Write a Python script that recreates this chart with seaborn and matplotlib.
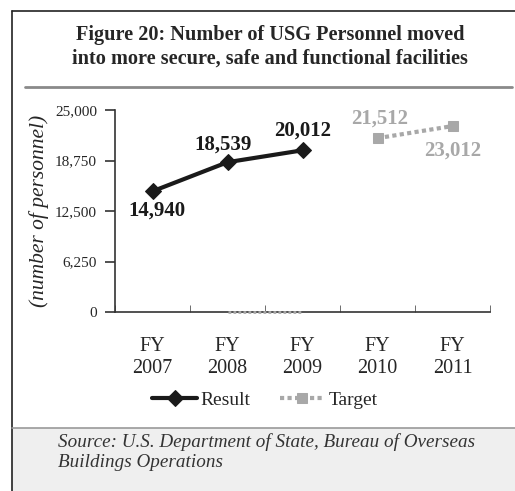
import numpy as np
import matplotlib.pyplot as plt
import seaborn as sns
from matplotlib.lines import Line2D
from matplotlib.patches import Rectangle

years = ["FY\n2007", "FY\n2008", "FY\n2009", "FY\n2010", "FY\n2011"]
result = [14940, 18539, 20012, np.nan, np.nan]
target = [np.nan, np.nan, np.nan, 21512, 23012]
target_zero = [np.nan, 0, 0, np.nan, np.nan]
yticks = [0, 6250, 12500, 18750, 25000]

sns.set_style("ticks")
plt.rcParams["font.family"] = ["Liberation Serif", "DejaVu Serif"]

W, H = 515, 491
fig = plt.figure(figsize=(W / 100, H / 100), dpi=100)
ax = fig.add_axes([115 / W, 1 - 312 / H, 375 / W, 202 / H])

pos = np.arange(len(years))
black = "#1a1a1a"
grey = "#a8a8a8"

sns.lineplot(x=pos, y=result, ax=ax, color=black, lw=3, marker="D", ms=8,
             mec=black, label="Result")
sns.lineplot(x=pos, y=target, ax=ax, color=grey, lw=3, ls=(0, (1, 0.8)),
             marker="s", ms=7, mec=grey, label="Target")
ax.plot(pos, target_zero, color=grey, lw=2, ls=(0, (1, 0.8)), zorder=4,
        clip_on=False)

# data labels: (value, x, colour, offset in points)
bold = dict(fontsize=15, fontweight="bold", ha="center", va="center",
            textcoords="offset points")
labels = [
    (result[0], 0, black, (3.5, -14)),
    (result[1], 1, black, (-3, 12.5)),
    (result[2], 2, black, (0, 14)),
    (target[3], 3, grey, (1.5, 14)),
    (target[4], 4, grey, (0, -17.5)),
]
for v, i, c, off in labels:
    ax.annotate(f"{v:,.0f}", (pos[i], v), xytext=off, color=c, **bold)

ax.set_xlim(-0.5, len(years) - 0.5)
ax.set_ylim(0, 25000)
ax.set_yticks(yticks)
ax.set_yticklabels([f"{v:,}" for v in yticks], fontsize=11)
ax.set_xticks(pos)
ax.set_xticklabels(years, fontsize=14.5, linespacing=1.2)
ax.set_xticks(np.arange(-0.5, len(years)), minor=True)
ax.tick_params(axis="x", which="major", length=0, pad=18)
ax.tick_params(axis="x", which="minor", length=5, direction="in", color="#555")
ax.tick_params(axis="y", length=7, width=1.2, color="#333", pad=6)
ax.set_ylabel("(number of personnel)", fontsize=15.5, style="italic", labelpad=4)
sns.despine(ax=ax)
for s in ("left", "bottom"):
    ax.spines[s].set_color("#333")
    ax.spines[s].set_linewidth(1.2)

leg = ax.legend(loc="upper center", bbox_to_anchor=(0.40, -0.305), ncol=2,
                frameon=False, fontsize=14, handlelength=2.3, columnspacing=1.5,
                handletextpad=0.2)

# title
fig.text(0.525, 1 - 47 / H, "Figure 20: Number of USG Personnel moved\ninto more secure, safe and functional facilities",
         ha="center", va="center", fontsize=14.6, fontweight="bold", linespacing=1.25)
fig.add_artist(Line2D([25 / W, 512 / W], [1 - 87 / H] * 2, color="#8a8a8a", lw=2))

# frame
fig.add_artist(Line2D([12 / W, 1], [1 - 11 / H] * 2, color="#222", lw=1.2))
fig.add_artist(Line2D([12 / W] * 2, [0, 1 - 11 / H], color="#222", lw=1.2))

# source box
fig.add_artist(Rectangle((12 / W, 0), 1, 1 - 428 / H, facecolor="#efefef",
                         edgecolor="none", zorder=0))
fig.add_artist(Line2D([12 / W, 1], [1 - 428 / H] * 2, color="#999", lw=1.2))
fig.text(58 / W, 1 - 452 / H, "Source: U.S. Department of State, Bureau of Overseas\nBuildings Operations",
         ha="left", va="center", fontsize=13.8, style="italic", color="#333", linespacing=1.25)

fig.savefig("out.png", dpi=100)
